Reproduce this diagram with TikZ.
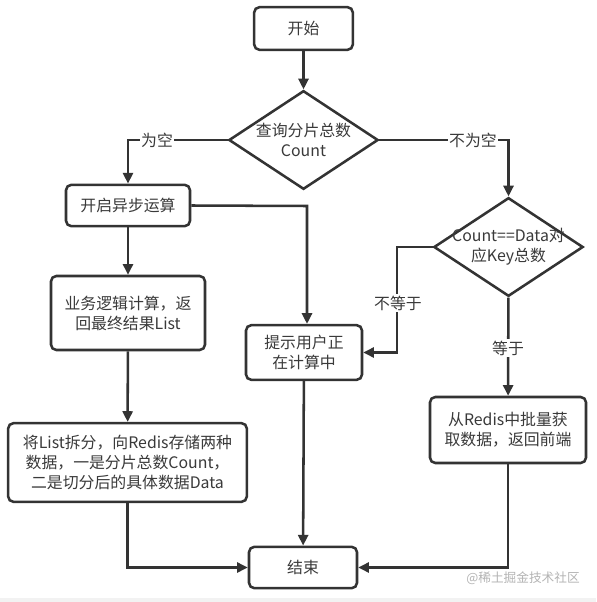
\documentclass[tikz,border=0pt]{standalone}
\usepackage{fontspec}
\setmainfont{Noto Sans CJK SC}
\usetikzlibrary{arrows.meta,shapes.geometric}
\definecolor{ink}{HTML}{333333}
\definecolor{txt}{HTML}{3A3A3A}
\definecolor{wm}{HTML}{B4B4B4}
\definecolor{strip}{HTML}{F2F2F2}
\begin{document}
\begin{tikzpicture}[x=0.75pt,y=-0.75pt,
  font=\fontsize{11.9pt}{15pt}\selectfont, text=txt,
  box/.style={draw=ink,line width=1.9pt,rounded corners=4pt,fill=white,inner sep=0pt,align=center},
  dia/.style={draw=ink,line width=1.9pt,diamond,inner sep=0pt,fill=white},
  arr/.style={draw=ink,line width=1.9pt,-{Triangle[length=8pt,width=7.5pt]}},
  lbl/.style={fill=white,inner sep=1pt}
]
\useasboundingbox (0,0) rectangle (596,602);
\fill[white] (0,0) rectangle (596,602);
\fill[strip] (0,597.5) rectangle (596,602);

\node[box,minimum width=74pt,minimum height=32pt] (start) at (303.5,28.5) {开始};
\node[dia,minimum width=112pt,minimum height=74pt,
  label={[align=center,text=txt]center:查询分片总数\\Count}] (d1) at (303.5,140) {};
\node[box,minimum width=93pt,minimum height=31pt] (asyn) at (128,205.5) {开启异步运算};
\node[box,minimum width=115.5pt,minimum height=55.5pt] (biz) at (128,313) {业务逻辑计算，返\\回最终结果List};
\node[box,minimum width=179pt,minimum height=59pt] (split) at (127.5,462.5) {将List拆分，向Redis存储两种\\数据，一是分片总数Count，\\二是切分后的具体数据Data};
\node[box,minimum width=87pt,minimum height=41pt] (tip) at (304,352.5) {提示用户正\\在计算中};
\node[dia,minimum width=112pt,minimum height=74pt,
  label={[align=center,text=txt]center:Count==Data对\\应Key总数}] (d2) at (508.5,247) {};
\node[box,minimum width=117pt,minimum height=49.5pt] (fetch) at (508,430) {从Redis中批量获\\取数据，返回前端};
\node[box,minimum width=81pt,minimum height=31pt] (end) at (303,567.5) {结束};

\coordinate (k1) at (397,247);
\coordinate (k2) at (307,206);

\draw[arr] (start) -- (d1);
\draw[arr] (d1.west) -| (asyn.north);
\draw[arr] (d1.east) -| (d2.north);
\draw[arr] (asyn) -- (biz);
\draw[arr] (asyn.east) -- (k2) -- (k2 |- tip.north);
\draw[arr] (biz) -- (split);
\draw[arr] (split.south) |- (end.west);
\draw[arr] (tip) -- (end);
\draw[arr] (d2.west) -- (k1) |- (tip.east);
\draw[arr] (d2) -- (fetch);
\draw[arr] (fetch.south) |- (end.east);

\node[lbl] (l1) at (157,140) {为空};
\node[lbl] (l2) at (473,140) {不为空};
\node[lbl] (l3) at (398,303) {不等于};
\node[lbl] (l4) at (508,348) {等于};

\node[text=wm,font=\fontsize{9.5pt}{11pt}\selectfont] (wmk) at (523,578) {@稀土掘金技术社区};
\end{tikzpicture}
\end{document}
